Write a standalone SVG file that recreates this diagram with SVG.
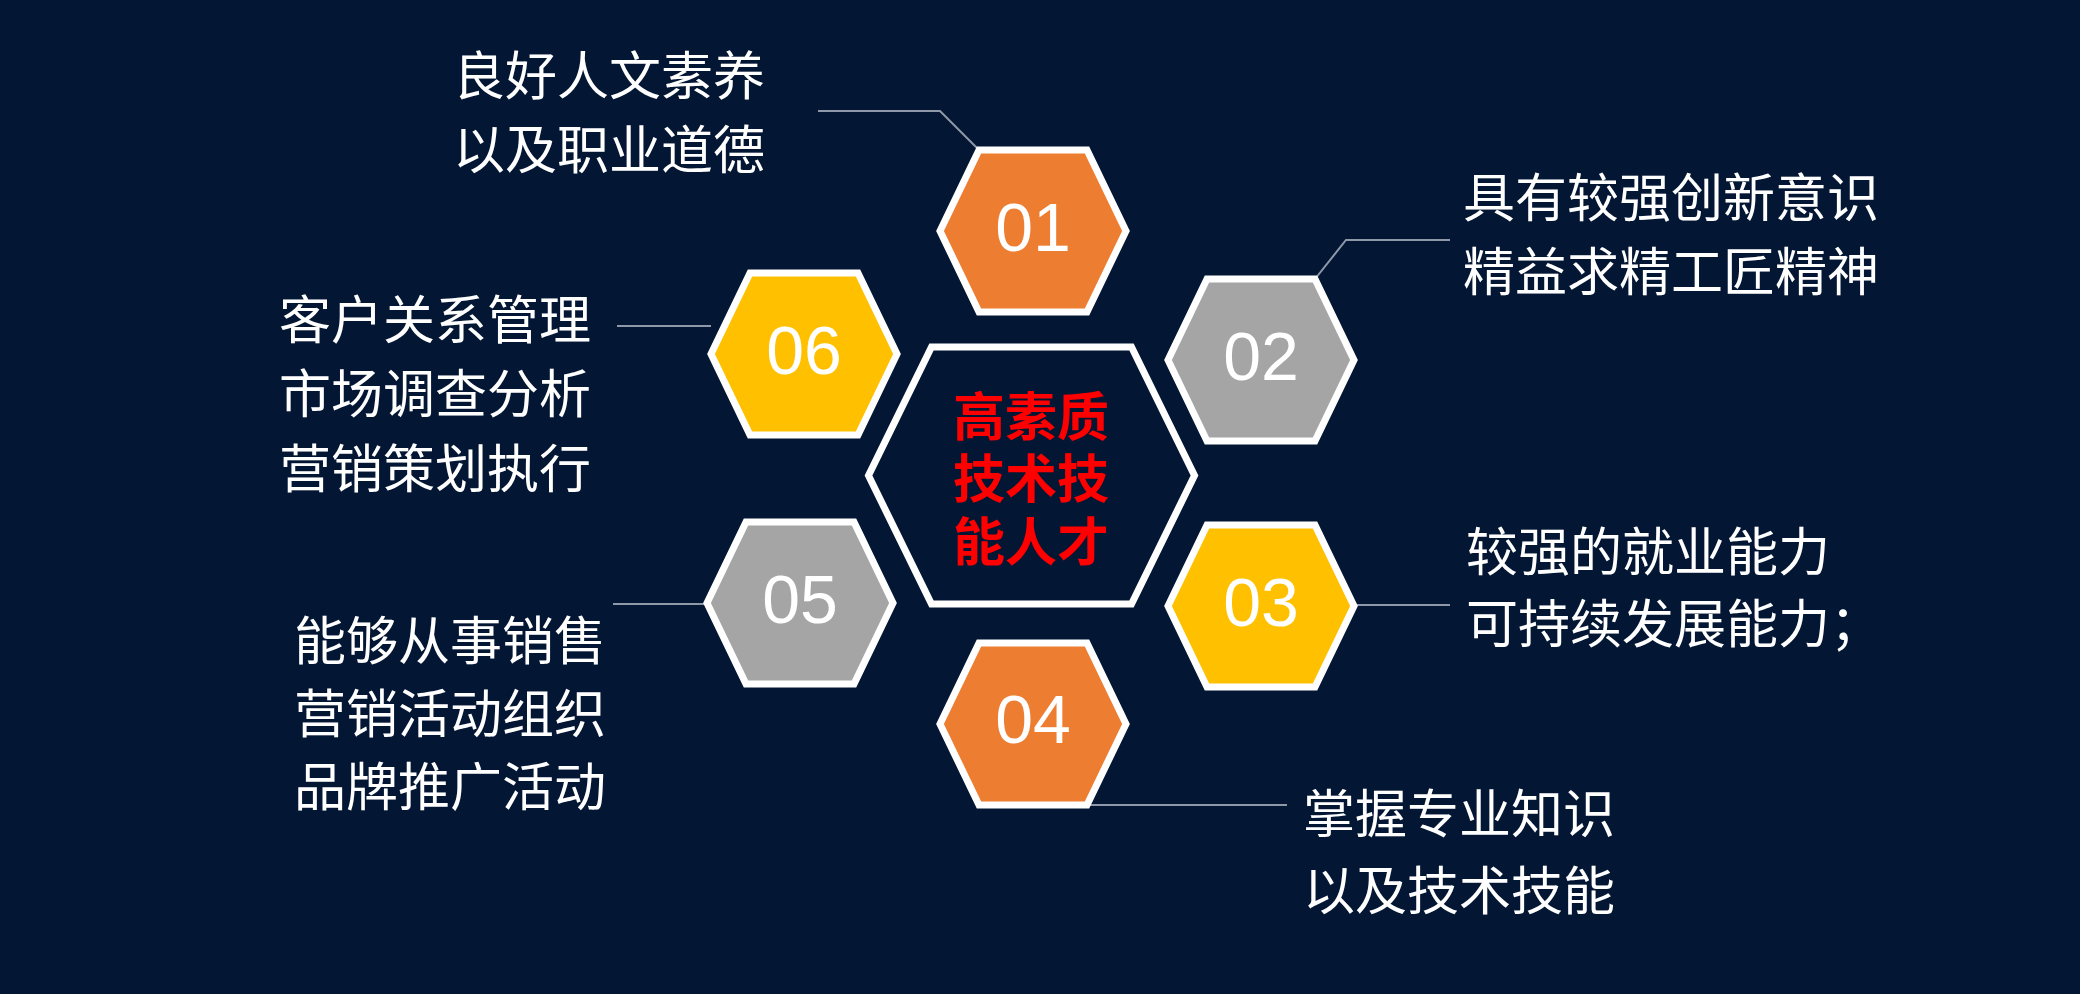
<svg xmlns="http://www.w3.org/2000/svg" width="2080" height="994" viewBox="0 0 2080 994">
  <defs>
    <style>
      .hex { stroke: #FFFFFF; stroke-width: 7; stroke-linejoin: miter; }
      .orange { fill: #ED7D31; }
      .gray { fill: #A5A5A5; }
      .yellow { fill: #FFC000; }
      .center { fill: #031633; }
      .num { font-family: "Liberation Sans", Arial, sans-serif; font-size: 68px; fill: #FFFFFF; text-anchor: middle; }
      .label { font-family: "Noto Sans CJK SC", "Noto Sans", sans-serif; font-size: 52px; fill: #FFFFFF; }
      .title { font-family: "Noto Sans CJK SC", "Noto Sans", sans-serif; font-size: 52px; font-weight: bold; fill: #FF0000; text-anchor: middle; }
      .conn { fill: none; stroke: #8E98A8; stroke-width: 2; }
    </style>
    <path id="hexSmall" d="M -54 -81 L 54 -81 L 93 0 L 54 81 L -54 81 L -93 0 Z"/>
  </defs>
  <rect x="0" y="0" width="2080" height="994" fill="#031633"/>

  <g id="connectors">
    <polyline class="conn" points="818,111 940,111 979,150"/>
    <polyline class="conn" points="1315,279 1346,240 1450,240"/>
    <polyline class="conn" points="1354,605 1450,605"/>
    <polyline class="conn" points="1087,805 1287,805"/>
    <polyline class="conn" points="613,604 707,604"/>
    <polyline class="conn" points="617,326 711,326"/>
  </g>

  <g id="node-center">
    <path class="hex center" d="M 931.5 347 L 1131.5 347 L 1194.5 475.5 L 1131.5 604 L 931.5 604 L 868.5 475.5 Z"/>
    <text class="title"><tspan x="1031" y="436">高素质</tspan><tspan x="1031" y="498">技术技</tspan><tspan x="1031" y="561">能人才</tspan></text>
  </g>

  <g id="node-01">
    <use href="#hexSmall" class="hex orange" x="1033" y="231"/>
    <text class="num" x="1033" y="251">01</text>
  </g>
  <g id="node-02">
    <use href="#hexSmall" class="hex gray" x="1261" y="360"/>
    <text class="num" x="1261" y="380">02</text>
  </g>
  <g id="node-03">
    <use href="#hexSmall" class="hex yellow" x="1261" y="606"/>
    <text class="num" x="1261" y="626">03</text>
  </g>
  <g id="node-04">
    <use href="#hexSmall" class="hex orange" x="1033" y="724"/>
    <text class="num" x="1033" y="743">04</text>
  </g>
  <g id="node-05">
    <use href="#hexSmall" class="hex gray" x="800" y="603"/>
    <text class="num" x="800" y="623">05</text>
  </g>
  <g id="node-06">
    <use href="#hexSmall" class="hex yellow" x="804" y="354"/>
    <text class="num" x="804" y="374">06</text>
  </g>

  <g id="label-01">
    <text class="label"><tspan x="453" y="95">良好人文素养</tspan><tspan x="453" y="169">以及职业道德</tspan></text>
  </g>
  <g id="label-02">
    <text class="label"><tspan x="1463" y="217">具有较强创新意识</tspan><tspan x="1463" y="291">精益求精工匠精神</tspan></text>
  </g>
  <g id="label-03">
    <text class="label"><tspan x="1466" y="571">较强的就业能力</tspan><tspan x="1466" y="643">可持续发展能力；</tspan></text>
  </g>
  <g id="label-04">
    <text class="label"><tspan x="1303" y="833">掌握专业知识</tspan><tspan x="1303" y="910">以及技术技能</tspan></text>
  </g>
  <g id="label-05">
    <text class="label"><tspan x="294" y="660">能够从事销售</tspan><tspan x="294" y="733">营销活动组织</tspan><tspan x="294" y="806">品牌推广活动</tspan></text>
  </g>
  <g id="label-06">
    <text class="label"><tspan x="279" y="339">客户关系管理</tspan><tspan x="279" y="413">市场调查分析</tspan><tspan x="279" y="488">营销策划执行</tspan></text>
  </g>
</svg>
